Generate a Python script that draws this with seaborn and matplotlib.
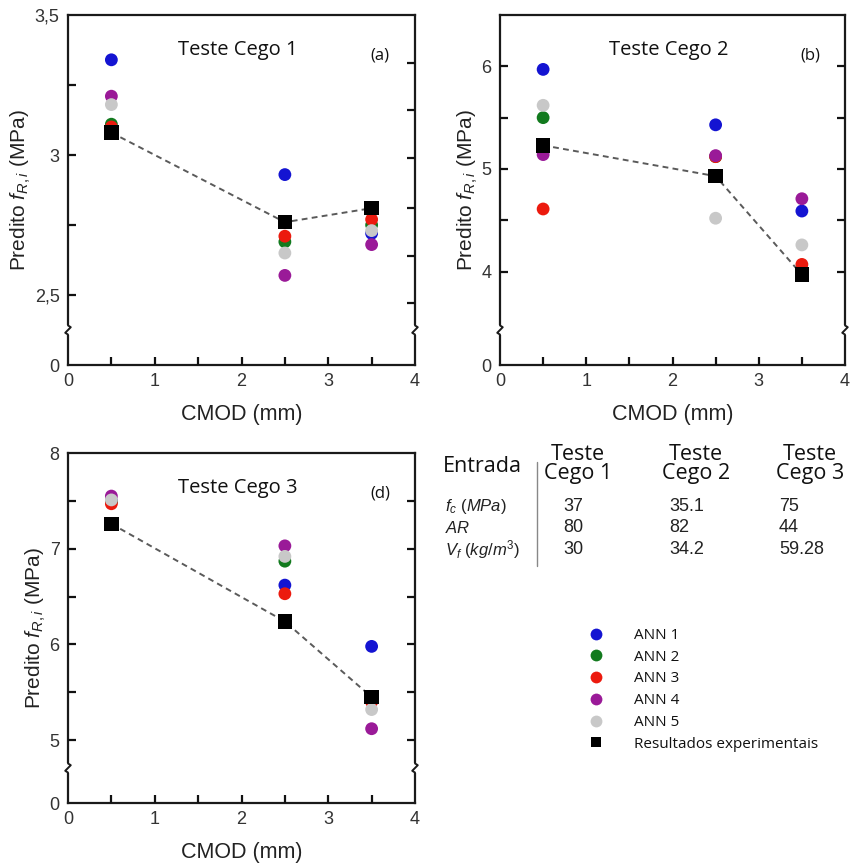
import numpy as np
import pandas as pd
import matplotlib
matplotlib.use("Agg")
import matplotlib.pyplot as plt
from matplotlib.lines import Line2D
import seaborn as sns

# ---------------- data ----------------
cmod = [0.5, 2.5, 3.5]
series_names = ["ANN 1", "ANN 2", "ANN 3", "ANN 4", "ANN 5"]
exp_name = "Resultados experimentais"

t1_ann1 = [3.34, 2.93, 2.72]
t1_ann2 = [3.11, 2.69, 2.75]
t1_ann3 = [3.10, 2.71, 2.77]
t1_ann4 = [3.21, 2.57, 2.68]
t1_ann5 = [3.18, 2.65, 2.73]
t1_exp = [3.08, 2.76, 2.81]

t2_ann1 = [5.97, 5.43, 4.59]
t2_ann2 = [5.50, 5.12, 4.02]
t2_ann3 = [4.61, 5.12, 4.07]
t2_ann4 = [5.14, 5.13, 4.71]
t2_ann5 = [5.62, 4.52, 4.26]
t2_exp = [5.23, 4.93, 3.97]

t3_ann1 = [7.50, 6.62, 5.98]
t3_ann2 = [7.49, 6.87, 5.42]
t3_ann3 = [7.47, 6.53, 5.40]
t3_ann4 = [7.55, 7.03, 5.12]
t3_ann5 = [7.51, 6.92, 5.32]
t3_exp = [7.26, 6.24, 5.45]

panel_titles = ["Teste Cego 1", "Teste Cego 2", "Teste Cego 3"]
panel_tags = ["(a)", "(b)", "(d)"]

# table
table_rows = [r"$f_c\ (MPa)$", r"$AR$", r"$V_f\ (kg/m^3)$"]
table_cols = ["Teste\nCego 1", "Teste\nCego 2", "Teste\nCego 3"]
table_vals = [["37", "80", "30"], ["35.1", "82", "34.2"], ["75", "44", "59.28"]]

colors = ["#1414d2", "#127a1e", "#ec1a0e", "#9a1a98", "#c8c8c8"]

# ---------------- style ----------------
sns.set_style("ticks", {"xtick.direction": "in", "ytick.direction": "in"})
plt.rcParams["font.family"] = ["Liberation Sans", "DejaVu Sans"]
plt.rcParams["mathtext.fontset"] = "custom"
plt.rcParams["mathtext.it"] = "Liberation Sans:italic"
plt.rcParams["mathtext.rm"] = "Liberation Sans"

fig = plt.figure(figsize=(8.5, 8.67), dpi=100)

W, H = 850.0, 867.0
def fx(px):
    return px / W
def fy(py):
    return 1 - py / H

x_tick_marks = [0.5, 1.0, 1.5, 2.0, 2.5, 3.0, 3.5]
TICK_PX = 8.0

panels = [
    dict(rect=[fx(68), fy(365), fx(415) - fx(68), fy(15) - fy(365)],
         anns=[t1_ann1, t1_ann2, t1_ann3, t1_ann4, t1_ann5], exp=t1_exp,
         ylim=(2.25, 3.5), yticks=[2.25, 2.5, 3.0, 3.5], ylabels=["0", "2,5", "3", "3,5"],
         lticks=[2.5, 2.75, 3.0, 3.25], rticks=[2.47, 2.64, 2.81, 2.99, 3.16, 3.33]),
    dict(rect=[fx(500), fy(365), fx(845) - fx(500), fy(15) - fy(365)],
         anns=[t2_ann1, t2_ann2, t2_ann3, t2_ann4, t2_ann5], exp=t2_exp,
         ylim=(3.09, 6.5), yticks=[3.09, 4, 5, 6], ylabels=["0", "4", "5", "6"],
         lticks=[4, 4.5, 5, 5.5, 6], rticks=[4, 4.5, 5, 5.5, 6]),
    dict(rect=[fx(68), fy(803), fx(415) - fx(68), fy(453) - fy(803)],
         anns=[t3_ann1, t3_ann2, t3_ann3, t3_ann4, t3_ann5], exp=t3_exp,
         ylim=(4.344, 8.0), yticks=[4.344, 5, 6, 7, 8], ylabels=["0", "5", "6", "7", "8"],
         lticks=[5, 5.5, 6, 6.5, 7, 7.5], rticks=[5, 5.5, 6, 6.5, 7, 7.5]),
]

for i, p in enumerate(panels):
    ax = fig.add_axes(p["rect"])
    rows = []
    for name, vals in zip(series_names, p["anns"]):
        for xv, yv in zip(cmod, vals):
            rows.append(dict(cmod=xv, value=yv, series=name))
    df = pd.DataFrame(rows)
    dfe = pd.DataFrame(dict(cmod=cmod, value=p["exp"], series=exp_name))

    sns.scatterplot(data=df, x="cmod", y="value", hue="series", palette=colors,
                    s=85, edgecolor="none", linewidth=0, legend=False, ax=ax, zorder=3)
    sns.lineplot(data=dfe, x="cmod", y="value", color="#5a5a5a", lw=1.4,
                 dashes=False, ax=ax, zorder=4, legend=False)
    ax.lines[-1].set_linestyle((0, (3, 2.2)))
    sns.scatterplot(data=dfe, x="cmod", y="value", marker="s", color="black",
                    s=110, edgecolor="none", linewidth=0, legend=False, ax=ax, zorder=5)

    ax.set_xlim(0, 4)
    ax.set_ylim(*p["ylim"])
    ax.set_xticks([0, 1, 2, 3, 4])
    ax.set_xticklabels(["0", "1", "2", "3", "4"])
    ax.set_yticks(p["yticks"])
    ax.set_yticklabels(p["ylabels"])
    ax.tick_params(axis="both", which="both", length=0, pad=6,
                   labelsize=13, labelcolor="#333333")

    for s in ax.spines.values():
        s.set_linewidth(1.6)
        s.set_color("#1a1a1a")

    # inward tick marks along left, bottom and right spines
    w_px = p["rect"][2] * W
    h_px = p["rect"][3] * H
    xt = ax.get_xaxis_transform()   # x in data, y in axes fraction
    yt = ax.get_yaxis_transform()   # x in axes fraction, y in data
    for xv in x_tick_marks:
        ax.plot([xv, xv], [0, TICK_PX / h_px], transform=xt, color="#111111",
                lw=1.6, clip_on=False, zorder=10, solid_capstyle="butt")
    for yv in p["lticks"]:
        ax.plot([0, TICK_PX / w_px], [yv, yv], transform=yt, color="#111111",
                lw=1.6, clip_on=False, zorder=10, solid_capstyle="butt")
    for yv in p["rticks"]:
        ax.plot([1 - TICK_PX / w_px, 1], [yv, yv], transform=yt, color="#111111",
                lw=1.6, clip_on=False, zorder=10, solid_capstyle="butt")

    ax.set_xlabel("CMOD (mm)", fontsize=15.5, labelpad=10, color="#222222")
    ax.set_ylabel(r"Predito $f_{R,i}$ (MPa)", fontsize=15, labelpad=1, color="#222222")

    ax.text(0.49, 0.9, panel_titles[i], transform=ax.transAxes, ha="center",
            va="center", fontsize=14.5, family="Open Sans", color="#111111")
    ax.text(0.9, 0.885, panel_tags[i], transform=ax.transAxes, ha="center",
            va="center", fontsize=12, family="Open Sans", color="#111111")

    # axis break marks
    for xb in (0.0, 1.0):
        ax.add_patch(plt.Rectangle((xb - 0.01, 0.087), 0.02, 0.026, transform=ax.transAxes,
                                   facecolor="white", edgecolor="none", clip_on=False, zorder=11))
        ax.plot([xb, xb + 0.008, xb - 0.008, xb], [0.113, 0.108, 0.092, 0.087],
                transform=ax.transAxes, color="#1a1a1a", lw=1.4, clip_on=False, zorder=12)

# ---------------- table ----------------
fig.text(fx(443), fy(467), "Entrada", ha="left", va="center", fontsize=15.5,
         family="Open Sans", color="#111111")
fig.add_artist(Line2D([fx(537), fx(537)], [fy(462), fy(566)], color="#888888", lw=1.0))
col_centers = [578, 696, 810]
for cx, lab in zip(col_centers, table_cols):
    fig.text(fx(cx), fy(464), lab, ha="center", va="center", fontsize=15.5,
             family="Open Sans", color="#111111", linespacing=0.9)
row_y = [507, 528, 550]
for ry, lab in zip(row_y, table_rows):
    fig.text(fx(445), fy(ry), lab, ha="left", va="center", fontsize=12, color="#222222")
val_x = [563, 669, 779]
for cx, vals in zip(val_x, table_vals):
    for ry, v in zip(row_y, vals):
        fig.text(fx(cx), fy(ry), v, ha="left", va="center", fontsize=13, color="#222222")

# ---------------- legend ----------------
handles = [Line2D([], [], marker="o", linestyle="none", markersize=8.5, color=c,
                  markeredgewidth=0) for c in colors]
handles.append(Line2D([], [], marker="s", linestyle="none", markersize=7.5, color="black",
                      markeredgewidth=0))
labels = series_names + [exp_name]
leg = fig.legend(handles, labels, loc="upper left", bbox_to_anchor=(fx(588), fy(628)),
                 frameon=False, fontsize=11, handlelength=1.0, handletextpad=2.0,
                 labelspacing=0.44, borderpad=0, borderaxespad=0)
for t in leg.get_texts():
    t.set_family("Open Sans")
    t.set_color("#111111")

fig.savefig("out.png", dpi=100, facecolor="white")
